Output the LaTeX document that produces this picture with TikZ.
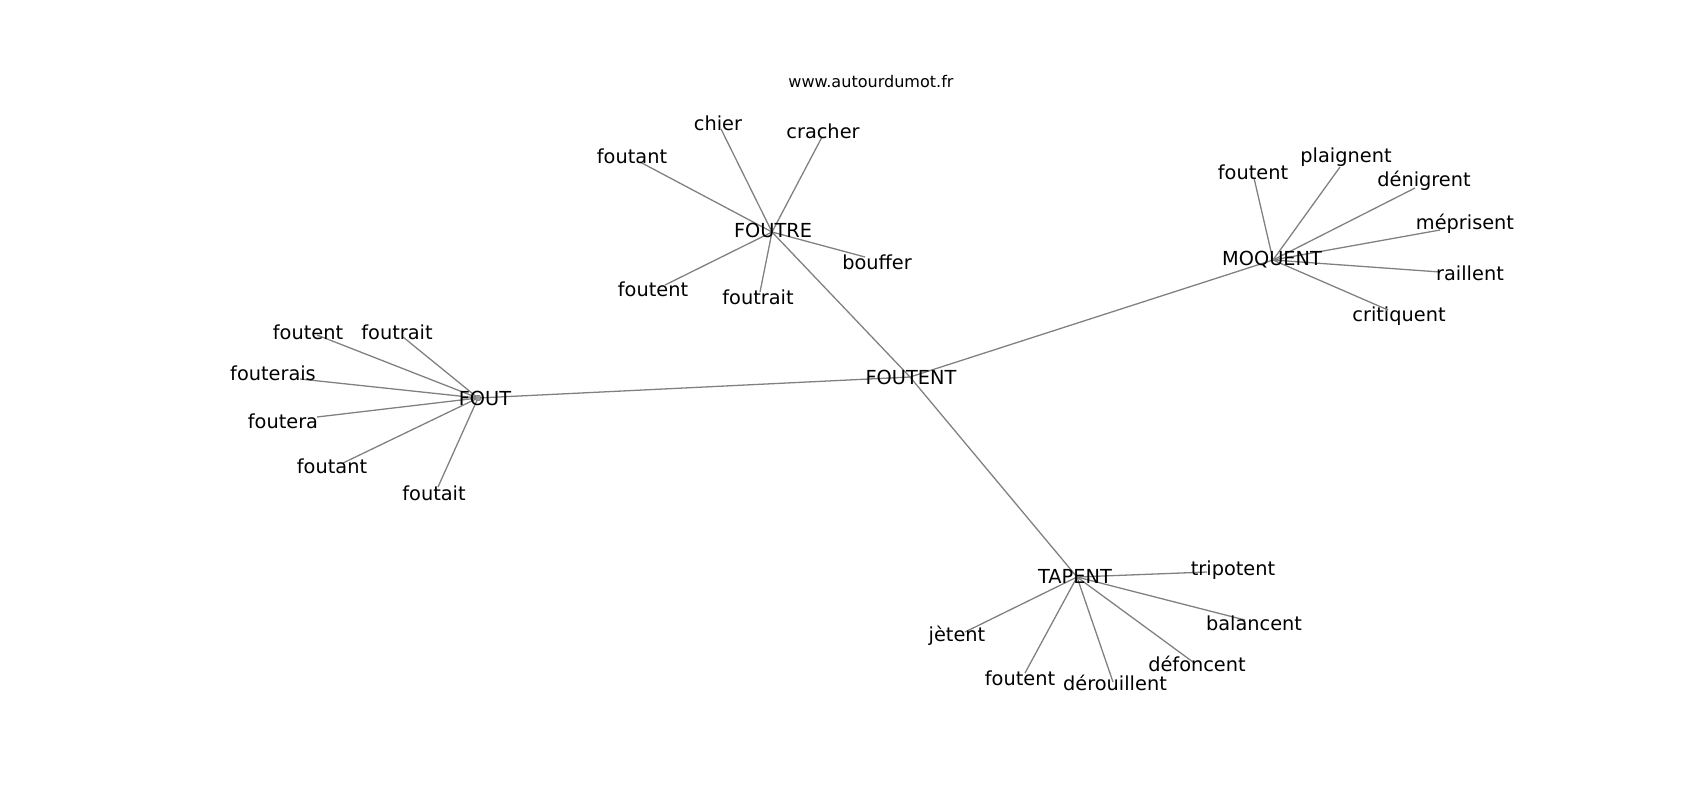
\documentclass[tikz,border=0pt]{standalone}
\usepackage{fontspec}
\setmainfont{DejaVu Sans}
\begin{document}
\begin{tikzpicture}[x=0.03cm,y=-0.03cm]
\tikzstyle{word}=[inner sep=0pt,font=\fontsize{16.5}{19}\selectfont]
\tikzstyle{site}=[inner sep=0pt,font=\fontsize{13.7}{16}\selectfont]
\tikzstyle{edge}=[draw=black!50,line width=1.1pt]
\tikzstyle{hubdot}=[circle,fill=black!40,draw=black!55,inner sep=0pt,minimum size=5pt]
\useasboundingbox (0,0) rectangle (1700,800);
\coordinate (foutent) at (910,377);
\coordinate (fout) at (478,398);
\coordinate (foutre) at (772,232);
\coordinate (moquent) at (1273,260);
\coordinate (tapent) at (1077,577);
\coordinate (fout-foutent) at (317,335);
\coordinate (fout-foutrait) at (403,337);
\coordinate (fout-fouterais) at (300,379);
\coordinate (fout-foutera) at (317,417);
\coordinate (fout-foutant) at (343,463);
\coordinate (fout-foutait) at (438,487);
\coordinate (foutre-chier) at (721,129);
\coordinate (foutre-cracher) at (822,137);
\coordinate (foutre-foutant) at (640,162);
\coordinate (foutre-foutent) at (665,285);
\coordinate (foutre-foutrait) at (760,292);
\coordinate (foutre-bouffer) at (865,257);
\coordinate (moquent-foutent) at (1254,178);
\coordinate (moquent-plaignent) at (1340,167);
\coordinate (moquent-denigrent) at (1415,188);
\coordinate (moquent-meprisent) at (1440,230);
\coordinate (moquent-raillent) at (1440,272);
\coordinate (moquent-critiquent) at (1388,310);
\coordinate (tapent-tripotent) at (1207,572);
\coordinate (tapent-balancent) at (1245,620);
\coordinate (tapent-jetent) at (965,632);
\coordinate (tapent-foutent) at (1025,673);
\coordinate (tapent-derouillent) at (1113,682);
\coordinate (tapent-defoncent) at (1193,662);

\draw[edge] (fout) -- (foutent);
\draw[edge] (foutre) -- (foutent);
\draw[edge] (moquent) -- (foutent);
\draw[edge] (tapent) -- (foutent);
\draw[edge] (fout) -- (fout-foutent);
\draw[edge] (fout) -- (fout-foutrait);
\draw[edge] (fout) -- (fout-fouterais);
\draw[edge] (fout) -- (fout-foutera);
\draw[edge] (fout) -- (fout-foutant);
\draw[edge] (fout) -- (fout-foutait);
\draw[edge] (foutre) -- (foutre-chier);
\draw[edge] (foutre) -- (foutre-cracher);
\draw[edge] (foutre) -- (foutre-foutant);
\draw[edge] (foutre) -- (foutre-foutent);
\draw[edge] (foutre) -- (foutre-foutrait);
\draw[edge] (foutre) -- (foutre-bouffer);
\draw[edge] (moquent) -- (moquent-foutent);
\draw[edge] (moquent) -- (moquent-plaignent);
\draw[edge] (moquent) -- (moquent-denigrent);
\draw[edge] (moquent) -- (moquent-meprisent);
\draw[edge] (moquent) -- (moquent-raillent);
\draw[edge] (moquent) -- (moquent-critiquent);
\draw[edge] (tapent) -- (tapent-tripotent);
\draw[edge] (tapent) -- (tapent-balancent);
\draw[edge] (tapent) -- (tapent-jetent);
\draw[edge] (tapent) -- (tapent-foutent);
\draw[edge] (tapent) -- (tapent-derouillent);
\draw[edge] (tapent) -- (tapent-defoncent);
\node[hubdot] (fout-dot) at (fout) {};

\node[site] (site) at (871,82) {www.autourdumot.fr};
\node[word] (foutent-txt) at (911,377) {FOUTENT};
\node[word] (fout-txt) at (485,398) {FOUT};
\node[word] (foutre-txt) at (773,230) {FOUTRE};
\node[word] (moquent-txt) at (1272,260) {MOQUENT};
\node[word] (tapent-txt) at (1075,576) {TAPENT};
\node[word] (fout-foutent-txt) at (308,332) {foutent};
\node[word] (fout-foutrait-txt) at (397,332) {foutrait};
\node[word] (fout-fouterais-txt) at (273,373) {fouterais};
\node[word] (fout-foutera-txt) at (283,421) {foutera};
\node[word] (fout-foutant-txt) at (332,466) {foutant};
\node[word] (fout-foutait-txt) at (434,493) {foutait};
\node[word] (foutre-chier-txt) at (718,123) {chier};
\node[word] (foutre-cracher-txt) at (823,131) {cracher};
\node[word] (foutre-foutant-txt) at (632,156) {foutant};
\node[word] (foutre-foutent-txt) at (653,289) {foutent};
\node[word] (foutre-foutrait-txt) at (758,297) {foutrait};
\node[word] (foutre-bouffer-txt) at (877,262) {bouffer};
\node[word] (moquent-foutent-txt) at (1253,172) {foutent};
\node[word] (moquent-plaignent-txt) at (1346,157) {plaignent};
\node[word] (moquent-denigrent-txt) at (1424,181) {dénigrent};
\node[word] (moquent-meprisent-txt) at (1465,224) {méprisent};
\node[word] (moquent-raillent-txt) at (1470,273) {raillent};
\node[word] (moquent-critiquent-txt) at (1399,316) {critiquent};
\node[word] (tapent-tripotent-txt) at (1233,570) {tripotent};
\node[word] (tapent-balancent-txt) at (1254,623) {balancent};
\node[word] (tapent-jetent-txt) at (957,636) {jètent};
\node[word] (tapent-foutent-txt) at (1020,678) {foutent};
\node[word] (tapent-derouillent-txt) at (1115,683) {dérouillent};
\node[word] (tapent-defoncent-txt) at (1197,664) {défoncent};
\end{tikzpicture}
\end{document}
